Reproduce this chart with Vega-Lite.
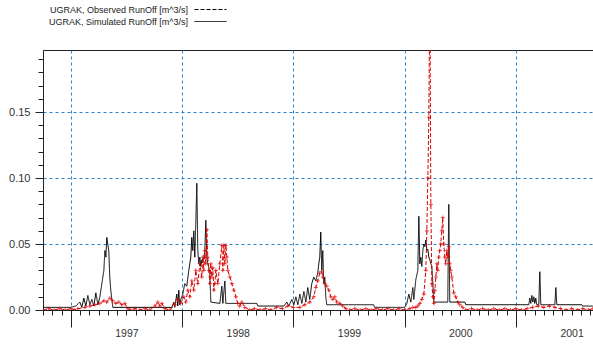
{
  "$schema": "https://vega.github.io/schema/vega-lite/v6.json",
  "width": 550,
  "height": 260,
  "autosize": "none",
  "padding": {"left": 43, "top": 50, "right": 0, "bottom": 34},
  "background": "white",
  "config": {
    "view": {"stroke": "#222", "strokeWidth": 1},
    "font": "Liberation Sans",
    "axis": {"domainColor": "#222", "tickColor": "#222", "gridColor": "#2b83cc", "gridDash": [3, 3], "gridWidth": 1, "labelColor": "#333", "labelFont": "Liberation Sans", "title": null}
  },
  "data": {"values": [
    {"s":"Sim","year":1996.748,"q":0.002},{"s":"Sim","year":1997.0,"q":0.002},{"s":"Sim","year":1997.045,"q":0.003},{"s":"Sim","year":1997.081,"q":0.006},{"s":"Sim","year":1997.099,"q":0.002},{"s":"Sim","year":1997.117,"q":0.009},{"s":"Sim","year":1997.135,"q":0.003},{"s":"Sim","year":1997.153,"q":0.011},{"s":"Sim","year":1997.171,"q":0.004},{"s":"Sim","year":1997.189,"q":0.008},{"s":"Sim","year":1997.207,"q":0.003},{"s":"Sim","year":1997.225,"q":0.013},{"s":"Sim","year":1997.243,"q":0.004},{"s":"Sim","year":1997.261,"q":0.010},{"s":"Sim","year":1997.279,"q":0.020},{"s":"Sim","year":1997.297,"q":0.030},{"s":"Sim","year":1997.306,"q":0.045},{"s":"Sim","year":1997.315,"q":0.040},{"s":"Sim","year":1997.323,"q":0.055},{"s":"Sim","year":1997.332,"q":0.050},{"s":"Sim","year":1997.341,"q":0.045},{"s":"Sim","year":1997.350,"q":0.025},{"s":"Sim","year":1997.359,"q":0.015},{"s":"Sim","year":1997.377,"q":0.002},{"s":"Sim","year":1997.907,"q":0.002},{"s":"Sim","year":1997.925,"q":0.006},{"s":"Sim","year":1997.934,"q":0.002},{"s":"Sim","year":1997.952,"q":0.012},{"s":"Sim","year":1997.961,"q":0.003},{"s":"Sim","year":1997.970,"q":0.015},{"s":"Sim","year":1997.979,"q":0.004},{"s":"Sim","year":1997.988,"q":0.008},{"s":"Sim","year":1998.006,"q":0.012},{"s":"Sim","year":1998.024,"q":0.020},{"s":"Sim","year":1998.042,"q":0.018},{"s":"Sim","year":1998.060,"q":0.030},{"s":"Sim","year":1998.078,"q":0.040},{"s":"Sim","year":1998.087,"q":0.055},{"s":"Sim","year":1998.096,"q":0.045},{"s":"Sim","year":1998.105,"q":0.060},{"s":"Sim","year":1998.114,"q":0.040},{"s":"Sim","year":1998.123,"q":0.066},{"s":"Sim","year":1998.132,"q":0.096},{"s":"Sim","year":1998.141,"q":0.045},{"s":"Sim","year":1998.150,"q":0.035},{"s":"Sim","year":1998.159,"q":0.040},{"s":"Sim","year":1998.168,"q":0.033},{"s":"Sim","year":1998.177,"q":0.038},{"s":"Sim","year":1998.186,"q":0.036},{"s":"Sim","year":1998.195,"q":0.040},{"s":"Sim","year":1998.204,"q":0.045},{"s":"Sim","year":1998.213,"q":0.068},{"s":"Sim","year":1998.222,"q":0.040},{"s":"Sim","year":1998.231,"q":0.035},{"s":"Sim","year":1998.240,"q":0.032},{"s":"Sim","year":1998.249,"q":0.028},{"s":"Sim","year":1998.258,"q":0.006},{"s":"Sim","year":1998.339,"q":0.005},{"s":"Sim","year":1998.357,"q":0.018},{"s":"Sim","year":1998.366,"q":0.005},{"s":"Sim","year":1998.384,"q":0.022},{"s":"Sim","year":1998.393,"q":0.005},{"s":"Sim","year":1998.671,"q":0.005},{"s":"Sim","year":1998.680,"q":0.003},{"s":"Sim","year":1998.914,"q":0.003},{"s":"Sim","year":1998.941,"q":0.006},{"s":"Sim","year":1998.959,"q":0.003},{"s":"Sim","year":1998.986,"q":0.008},{"s":"Sim","year":1999.004,"q":0.004},{"s":"Sim","year":1999.022,"q":0.010},{"s":"Sim","year":1999.040,"q":0.004},{"s":"Sim","year":1999.058,"q":0.012},{"s":"Sim","year":1999.076,"q":0.005},{"s":"Sim","year":1999.094,"q":0.014},{"s":"Sim","year":1999.112,"q":0.006},{"s":"Sim","year":1999.129,"q":0.017},{"s":"Sim","year":1999.147,"q":0.008},{"s":"Sim","year":1999.165,"q":0.020},{"s":"Sim","year":1999.183,"q":0.025},{"s":"Sim","year":1999.201,"q":0.022},{"s":"Sim","year":1999.219,"q":0.028},{"s":"Sim","year":1999.228,"q":0.035},{"s":"Sim","year":1999.237,"q":0.040},{"s":"Sim","year":1999.246,"q":0.059},{"s":"Sim","year":1999.255,"q":0.030},{"s":"Sim","year":1999.264,"q":0.045},{"s":"Sim","year":1999.273,"q":0.020},{"s":"Sim","year":1999.282,"q":0.025},{"s":"Sim","year":1999.291,"q":0.010},{"s":"Sim","year":1999.300,"q":0.004},{"s":"Sim","year":1999.720,"q":0.004},{"s":"Sim","year":1999.729,"q":0.002},{"s":"Sim","year":2000.001,"q":0.002},{"s":"Sim","year":2000.019,"q":0.005},{"s":"Sim","year":2000.037,"q":0.012},{"s":"Sim","year":2000.055,"q":0.006},{"s":"Sim","year":2000.073,"q":0.017},{"s":"Sim","year":2000.082,"q":0.008},{"s":"Sim","year":2000.100,"q":0.023},{"s":"Sim","year":2000.118,"q":0.030},{"s":"Sim","year":2000.127,"q":0.071},{"s":"Sim","year":2000.136,"q":0.035},{"s":"Sim","year":2000.145,"q":0.040},{"s":"Sim","year":2000.154,"q":0.033},{"s":"Sim","year":2000.163,"q":0.045},{"s":"Sim","year":2000.172,"q":0.050},{"s":"Sim","year":2000.181,"q":0.048},{"s":"Sim","year":2000.190,"q":0.053},{"s":"Sim","year":2000.199,"q":0.045},{"s":"Sim","year":2000.208,"q":0.046},{"s":"Sim","year":2000.217,"q":0.040},{"s":"Sim","year":2000.226,"q":0.038},{"s":"Sim","year":2000.235,"q":0.035},{"s":"Sim","year":2000.244,"q":0.033},{"s":"Sim","year":2000.253,"q":0.020},{"s":"Sim","year":2000.262,"q":0.006},{"s":"Sim","year":2000.387,"q":0.006},{"s":"Sim","year":2000.396,"q":0.080},{"s":"Sim","year":2000.405,"q":0.006},{"s":"Sim","year":2000.540,"q":0.006},{"s":"Sim","year":2000.549,"q":0.004},{"s":"Sim","year":2001.115,"q":0.004},{"s":"Sim","year":2001.124,"q":0.009},{"s":"Sim","year":2001.133,"q":0.005},{"s":"Sim","year":2001.142,"q":0.011},{"s":"Sim","year":2001.151,"q":0.006},{"s":"Sim","year":2001.160,"q":0.010},{"s":"Sim","year":2001.169,"q":0.005},{"s":"Sim","year":2001.178,"q":0.009},{"s":"Sim","year":2001.187,"q":0.004},{"s":"Sim","year":2001.205,"q":0.004},{"s":"Sim","year":2001.214,"q":0.029},{"s":"Sim","year":2001.223,"q":0.004},{"s":"Sim","year":2001.349,"q":0.004},{"s":"Sim","year":2001.358,"q":0.017},{"s":"Sim","year":2001.367,"q":0.004},{"s":"Sim","year":2001.591,"q":0.004},{"s":"Sim","year":2001.600,"q":0.003},{"s":"Sim","year":2001.690,"q":0.003},
    {"s":"Obs","year":1996.75,"q":0.0},{"s":"Obs","year":1996.80,"q":0.001},{"s":"Obs","year":1996.85,"q":0.0},{"s":"Obs","year":1996.90,"q":0.001},{"s":"Obs","year":1996.95,"q":0.0},{"s":"Obs","year":1997.00,"q":0.001},{"s":"Obs","year":1997.03,"q":0.0},{"s":"Obs","year":1997.063,"q":0.001},{"s":"Obs","year":1997.126,"q":0.002},{"s":"Obs","year":1997.171,"q":0.003},{"s":"Obs","year":1997.216,"q":0.004},{"s":"Obs","year":1997.261,"q":0.005},{"s":"Obs","year":1997.297,"q":0.007},{"s":"Obs","year":1997.323,"q":0.006},{"s":"Obs","year":1997.350,"q":0.009},{"s":"Obs","year":1997.377,"q":0.007},{"s":"Obs","year":1997.404,"q":0.005},{"s":"Obs","year":1997.431,"q":0.006},{"s":"Obs","year":1997.458,"q":0.004},{"s":"Obs","year":1997.485,"q":0.005},{"s":"Obs","year":1997.512,"q":0.001},{"s":"Obs","year":1997.539,"q":0.0},{"s":"Obs","year":1997.575,"q":0.001},{"s":"Obs","year":1997.620,"q":0.0},{"s":"Obs","year":1997.665,"q":0.001},{"s":"Obs","year":1997.710,"q":0.0},{"s":"Obs","year":1997.755,"q":0.003},{"s":"Obs","year":1997.782,"q":0.006},{"s":"Obs","year":1997.800,"q":0.003},{"s":"Obs","year":1997.818,"q":0.005},{"s":"Obs","year":1997.845,"q":0.001},{"s":"Obs","year":1997.890,"q":0.0},{"s":"Obs","year":1997.934,"q":0.004},{"s":"Obs","year":1997.961,"q":0.008},{"s":"Obs","year":1997.988,"q":0.005},{"s":"Obs","year":1998.015,"q":0.010},{"s":"Obs","year":1998.033,"q":0.006},{"s":"Obs","year":1998.051,"q":0.015},{"s":"Obs","year":1998.069,"q":0.010},{"s":"Obs","year":1998.087,"q":0.022},{"s":"Obs","year":1998.105,"q":0.015},{"s":"Obs","year":1998.123,"q":0.030},{"s":"Obs","year":1998.141,"q":0.020},{"s":"Obs","year":1998.159,"q":0.035},{"s":"Obs","year":1998.177,"q":0.025},{"s":"Obs","year":1998.186,"q":0.040},{"s":"Obs","year":1998.195,"q":0.030},{"s":"Obs","year":1998.204,"q":0.045},{"s":"Obs","year":1998.213,"q":0.035},{"s":"Obs","year":1998.222,"q":0.061},{"s":"Obs","year":1998.231,"q":0.040},{"s":"Obs","year":1998.240,"q":0.030},{"s":"Obs","year":1998.249,"q":0.020},{"s":"Obs","year":1998.258,"q":0.035},{"s":"Obs","year":1998.267,"q":0.025},{"s":"Obs","year":1998.276,"q":0.032},{"s":"Obs","year":1998.285,"q":0.015},{"s":"Obs","year":1998.294,"q":0.020},{"s":"Obs","year":1998.303,"q":0.030},{"s":"Obs","year":1998.321,"q":0.020},{"s":"Obs","year":1998.339,"q":0.035},{"s":"Obs","year":1998.357,"q":0.049},{"s":"Obs","year":1998.366,"q":0.030},{"s":"Obs","year":1998.375,"q":0.049},{"s":"Obs","year":1998.384,"q":0.035},{"s":"Obs","year":1998.393,"q":0.049},{"s":"Obs","year":1998.402,"q":0.040},{"s":"Obs","year":1998.411,"q":0.030},{"s":"Obs","year":1998.429,"q":0.025},{"s":"Obs","year":1998.447,"q":0.020},{"s":"Obs","year":1998.465,"q":0.015},{"s":"Obs","year":1998.483,"q":0.010},{"s":"Obs","year":1998.500,"q":0.005},{"s":"Obs","year":1998.518,"q":0.003},{"s":"Obs","year":1998.536,"q":0.006},{"s":"Obs","year":1998.563,"q":0.002},{"s":"Obs","year":1998.608,"q":0.0},{"s":"Obs","year":1998.65,"q":0.001},{"s":"Obs","year":1998.70,"q":0.0},{"s":"Obs","year":1998.75,"q":0.001},{"s":"Obs","year":1998.80,"q":0.0},{"s":"Obs","year":1998.85,"q":0.002},{"s":"Obs","year":1998.90,"q":0.001},{"s":"Obs","year":1998.95,"q":0.003},{"s":"Obs","year":1999.00,"q":0.002},{"s":"Obs","year":1999.058,"q":0.002},{"s":"Obs","year":1999.103,"q":0.004},{"s":"Obs","year":1999.147,"q":0.006},{"s":"Obs","year":1999.183,"q":0.010},{"s":"Obs","year":1999.201,"q":0.017},{"s":"Obs","year":1999.219,"q":0.022},{"s":"Obs","year":1999.237,"q":0.028},{"s":"Obs","year":1999.255,"q":0.029},{"s":"Obs","year":1999.264,"q":0.025},{"s":"Obs","year":1999.282,"q":0.020},{"s":"Obs","year":1999.300,"q":0.018},{"s":"Obs","year":1999.318,"q":0.015},{"s":"Obs","year":1999.336,"q":0.010},{"s":"Obs","year":1999.354,"q":0.008},{"s":"Obs","year":1999.372,"q":0.010},{"s":"Obs","year":1999.390,"q":0.006},{"s":"Obs","year":1999.417,"q":0.005},{"s":"Obs","year":1999.444,"q":0.003},{"s":"Obs","year":1999.471,"q":0.001},{"s":"Obs","year":1999.507,"q":0.0},{"s":"Obs","year":1999.55,"q":0.001},{"s":"Obs","year":1999.60,"q":0.0},{"s":"Obs","year":1999.65,"q":0.001},{"s":"Obs","year":1999.70,"q":0.0},{"s":"Obs","year":1999.75,"q":0.001},{"s":"Obs","year":1999.80,"q":0.0},{"s":"Obs","year":1999.85,"q":0.001},{"s":"Obs","year":1999.90,"q":0.0},{"s":"Obs","year":1999.95,"q":0.001},{"s":"Obs","year":2000.00,"q":0.0},{"s":"Obs","year":2000.046,"q":0.001},{"s":"Obs","year":2000.073,"q":0.002},{"s":"Obs","year":2000.100,"q":0.002},{"s":"Obs","year":2000.118,"q":0.003},{"s":"Obs","year":2000.136,"q":0.005},{"s":"Obs","year":2000.154,"q":0.008},{"s":"Obs","year":2000.172,"q":0.012},{"s":"Obs","year":2000.190,"q":0.030},{"s":"Obs","year":2000.199,"q":0.060},{"s":"Obs","year":2000.208,"q":0.100},{"s":"Obs","year":2000.217,"q":0.146},{"s":"Obs","year":2000.226,"q":0.25},{"s":"Obs","year":2000.235,"q":0.080},{"s":"Obs","year":2000.244,"q":0.020},{"s":"Obs","year":2000.253,"q":0.010},{"s":"Obs","year":2000.262,"q":0.005},{"s":"Obs","year":2000.271,"q":0.015},{"s":"Obs","year":2000.280,"q":0.025},{"s":"Obs","year":2000.289,"q":0.035},{"s":"Obs","year":2000.297,"q":0.030},{"s":"Obs","year":2000.306,"q":0.040},{"s":"Obs","year":2000.315,"q":0.045},{"s":"Obs","year":2000.324,"q":0.050},{"s":"Obs","year":2000.333,"q":0.060},{"s":"Obs","year":2000.342,"q":0.070},{"s":"Obs","year":2000.351,"q":0.050},{"s":"Obs","year":2000.360,"q":0.040},{"s":"Obs","year":2000.369,"q":0.035},{"s":"Obs","year":2000.378,"q":0.045},{"s":"Obs","year":2000.387,"q":0.040},{"s":"Obs","year":2000.396,"q":0.048},{"s":"Obs","year":2000.405,"q":0.035},{"s":"Obs","year":2000.414,"q":0.030},{"s":"Obs","year":2000.423,"q":0.025},{"s":"Obs","year":2000.441,"q":0.013},{"s":"Obs","year":2000.459,"q":0.010},{"s":"Obs","year":2000.477,"q":0.006},{"s":"Obs","year":2000.495,"q":0.004},{"s":"Obs","year":2000.522,"q":0.002},{"s":"Obs","year":2000.549,"q":0.0},{"s":"Obs","year":2000.60,"q":0.001},{"s":"Obs","year":2000.65,"q":0.0},{"s":"Obs","year":2000.70,"q":0.001},{"s":"Obs","year":2000.75,"q":0.0},{"s":"Obs","year":2000.80,"q":0.001},{"s":"Obs","year":2000.85,"q":0.0},{"s":"Obs","year":2000.90,"q":0.001},{"s":"Obs","year":2000.95,"q":0.0},{"s":"Obs","year":2001.00,"q":0.001},{"s":"Obs","year":2001.05,"q":0.0},{"s":"Obs","year":2001.10,"q":0.001},{"s":"Obs","year":2001.15,"q":0.002},{"s":"Obs","year":2001.20,"q":0.003},{"s":"Obs","year":2001.25,"q":0.002},{"s":"Obs","year":2001.30,"q":0.003},{"s":"Obs","year":2001.35,"q":0.002},{"s":"Obs","year":2001.40,"q":0.001},{"s":"Obs","year":2001.45,"q":0.0},{"s":"Obs","year":2001.50,"q":0.001},{"s":"Obs","year":2001.55,"q":0.0},{"s":"Obs","year":2001.60,"q":0.001},{"s":"Obs","year":2001.65,"q":0.0},{"s":"Obs","year":2001.69,"q":0.001}
  ]},
  "encoding": {
    "x": {"field": "year", "type": "quantitative",
      "scale": {"domain": [1996.75, 2001.692], "nice": false, "zero": false},
      "axis": {
        "values": [1996.75,1996.8333,1996.9167,1997,1997.0833,1997.1667,1997.25,1997.3333,1997.4167,1997.5,1997.5833,1997.6667,1997.75,1997.8333,1997.9167,1998,1998.0833,1998.1667,1998.25,1998.3333,1998.4167,1998.5,1998.5833,1998.6667,1998.75,1998.8333,1998.9167,1999,1999.0833,1999.1667,1999.25,1999.3333,1999.4167,1999.5,1999.5833,1999.6667,1999.75,1999.8333,1999.9167,2000,2000.0833,2000.1667,2000.25,2000.3333,2000.4167,2000.5,2000.5833,2000.6667,2000.75,2000.8333,2000.9167,2001,2001.0833,2001.1667,2001.25,2001.3333,2001.4167,2001.5,2001.5833,2001.6667],
        "labelExpr": "abs(datum.value - round(datum.value)) < 0.001 ? format(round(datum.value), 'd') : ''",
        "labelOffset": 55.6,
        "labelOverlap": false,
        "labelBound": false,
        "labelFlush": false,
        "labelFontSize": 10.5,
        "labelPadding": 1,
        "tickSize": {"condition": {"test": "abs(datum.value - round(datum.value)) < 0.001", "value": 17}, "value": 5},
        "gridOpacity": {"condition": {"test": "abs(datum.value - round(datum.value)) < 0.001", "value": 1}, "value": 0}
      }
    },
    "y": {"field": "q", "type": "quantitative",
      "scale": {"domain": [0, 0.197], "nice": false},
      "axis": {
        "values": [0,0.01,0.02,0.03,0.04,0.05,0.06,0.07,0.08,0.09,0.1,0.11,0.12,0.13,0.14,0.15,0.16,0.17,0.18,0.19],
        "labelExpr": "round(datum.value*100) % 5 == 0 ? format(datum.value, '.2f') : ''",
        "labelOverlap": false,
        "labelFontSize": 11,
        "labelPadding": 5,
        "tickSize": {"condition": {"test": "round(datum.value*100) % 5 == 0", "value": 8}, "value": 5},
        "gridOpacity": {"condition": {"test": "round(datum.value*100) % 5 == 0 && datum.value > 0", "value": 1}, "value": 0}
      }
    }
  },
  "layer": [
    {
      "transform": [{"filter": "datum.s == 'Sim'"}],
      "mark": {"type": "line", "strokeWidth": 1, "color": "#000000", "clip": true},
      "encoding": {
        "strokeDash": {"field": "s", "type": "nominal", "scale": {"domain": ["Obs", "Sim"], "range": [[4, 2], [1, 0]]},
          "legend": {"orient": "none", "legendX": 0, "legendY": -45, "title": null, "direction": "vertical", "symbolType": "M-8,0L8,0", "symbolSize": 16, "symbolStrokeWidth": 1, "symbolOffset": 163, "labelAlign": "right", "labelOffset": -27, "labelFont": "Liberation Sans", "labelFontSize": 9, "labelColor": "#222", "rowPadding": 2, "padding": 0, "labelLimit": 300,
            "labelExpr": "datum.label == 'Obs' ? 'UGRAK, Observed RunOff [m^3/s]' : 'UGRAK, Simulated RunOff [m^3/s]'",
            "encode": {"symbols": {"update": {"stroke": {"signal": "datum.value == 'Obs' ? '#dd0000' : '#000000'"}, "fill": {"value": "transparent"}}}}}}
      }
    },
    {
      "transform": [{"filter": "datum.s == 'Obs'"}],
      "mark": {"type": "line", "strokeWidth": 1, "color": "#dd0000", "clip": true},
      "encoding": {
        "strokeDash": {"field": "s", "type": "nominal"}
      }
    },
    {
      "transform": [{"filter": "datum.s == 'Obs'"}],
      "mark": {"type": "point", "shape": "M-1,0L1,0M0,-1L0,1", "filled": false, "color": "#dd0000", "size": 16, "strokeWidth": 1, "clip": true}
    }
  ]
}
